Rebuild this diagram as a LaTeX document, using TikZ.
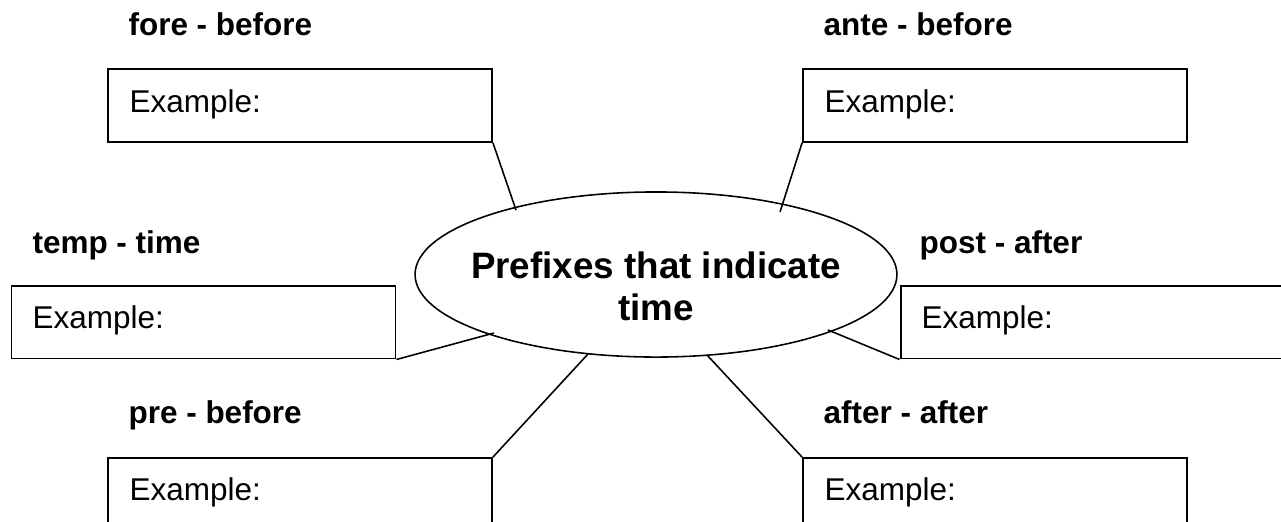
\documentclass[tikz,border=0pt]{standalone}
\usepackage{fontspec}
\setmainfont{Liberation Sans}
\usetikzlibrary{shapes.geometric}
\begin{document}
\begin{tikzpicture}[x=0.381pt,y=-0.381pt,
  box/.style={draw, line width=0.75pt, minimum width=146.3pt, minimum height=27.8pt, inner sep=0pt},
  lbl/.style={anchor=base west, inner sep=0pt, font=\fontsize{12pt}{14pt}\selectfont\bfseries},
  ex/.style={anchor=base west, inner sep=0pt, font=\fontsize{12pt}{14pt}\selectfont},
  ctext/.style={anchor=base, inner sep=0pt, font=\fontsize{14pt}{16pt}\selectfont\bfseries},
  conn/.style={line width=0.6pt}]
\useasboundingbox (0,0) rectangle (1281,521);
\clip (0,0) rectangle (1281,521);
\fill[white] (0,0) rectangle (1281,521);

% centre ellipse
\node[ellipse, draw, line width=0.6pt, minimum width=183.6pt, minimum height=62.9pt, inner sep=0pt] (c) at (656,274.5) {};
\node[ctext] (c1) at (656,278) {Prefixes that indicate};
\node[ctext] (c2) at (656,320) {time};

% boxes
\node[box] (fore) at (300,105.5) {};
\node[box] (ante) at (995,105.5) {};
\node[box] (temp) at (203.5,322) {};
\node[box] (post) at (1092.5,322) {};
\node[box] (pre) at (300,494.5) {};
\node[box] (after) at (995,494.5) {};

% labels
\node[lbl] (lfore) at (128,35) {fore - before};
\node[lbl] (lante) at (823,35) {ante - before};
\node[lbl] (ltemp) at (32,253) {temp - time};
\node[lbl] (lpost) at (919,253) {post - after};
\node[lbl] (lpre) at (128,423) {pre - before};
\node[lbl] (lafter) at (823,423) {after - after};

% examples
\node[ex] (efore) at (129,112) {Example:};
\node[ex] (eante) at (824,112) {Example:};
\node[ex] (etemp) at (32,328) {Example:};
\node[ex] (epost) at (921,328) {Example:};
\node[ex] (epre) at (129,500) {Example:};
\node[ex] (eafter) at (824,500) {Example:};

% connector ends on the ellipse
\coordinate (pfore) at (516,210);
\coordinate (pante) at (780,212);
\coordinate (ptemp) at (494,333);
\coordinate (ppost) at (828,330);
\coordinate (ppre) at (588,354);
\coordinate (pafter) at (707,355);

\draw[conn] (fore.south east) -- (pfore);
\draw[conn] (ante.south west) -- (pante);
\draw[conn] (temp.south east) -- (ptemp);
\draw[conn] (ppost) -- (post.south west);
\draw[conn] (ppre) -- (pre.north east);
\draw[conn] (pafter) -- (after.north west);
\end{tikzpicture}
\end{document}
